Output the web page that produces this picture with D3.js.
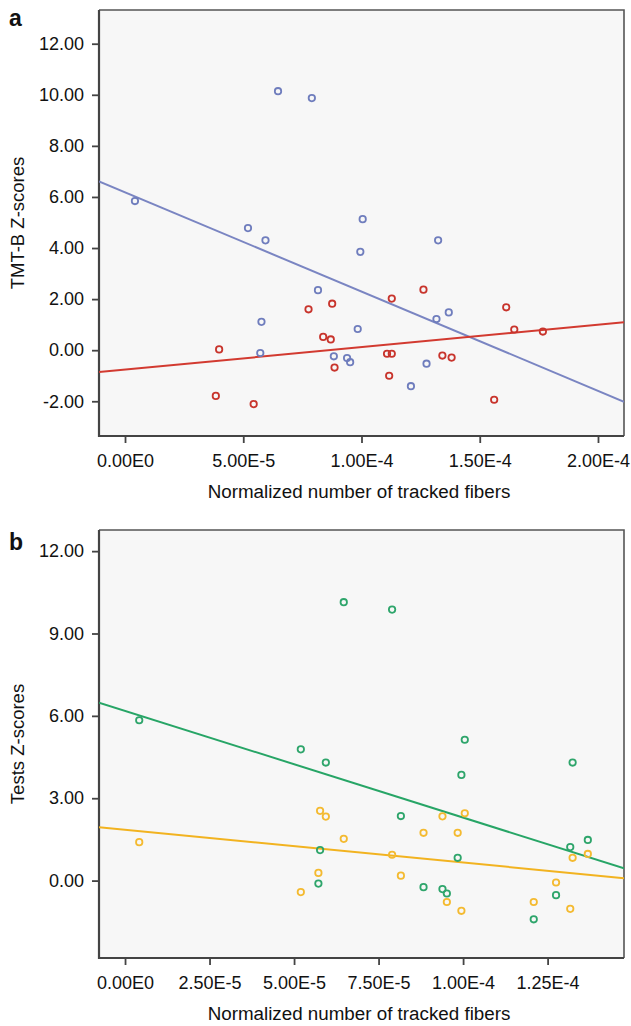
<!DOCTYPE html>
<html>
<head>
<meta charset="utf-8">
<script src="https://cdn.jsdelivr.net/npm/d3@7"></script>
<style>
  body { margin: 0; background: #fff; }
  svg { display: block; font-family: "Liberation Sans", Arial, sans-serif; }
</style>
</head>
<body>
<div id="chart"></div>
<script>
// subjects: normalized number of tracked fibers (panel a blue, panel b)
var fibers = [0.42e-5, 5.20e-5, 5.94e-5, 6.47e-5, 7.90e-5, 8.16e-5, 5.77e-5, 5.72e-5, 10.05e-5, 9.95e-5,
              13.24e-5, 9.84e-5, 13.17e-5, 13.69e-5, 8.83e-5, 9.39e-5, 9.52e-5, 12.75e-5, 12.09e-5];
// TMT-B z-scores (blue in a, green in b)
var tmtbScores = [5.84, 4.78, 4.30, 10.14, 9.87, 2.35, 1.11, -0.11, 5.13, 3.85,
                  4.30, 0.83, 1.22, 1.48, -0.24, -0.31, -0.47, -0.53, -1.41];
// second test z-scores (yellow in b)
var otherScores = [1.40, -0.42, 2.33, 1.52, 0.94, 0.18, 2.54, 0.28, 2.45, -1.10,
                   0.83, 1.74, -1.03, 0.97, 1.74, 2.34, -0.78, -0.07, -0.78];
// red group in panel a
var redFibers = [7.76e-5, 3.98e-5, 3.84e-5, 5.44e-5, 8.38e-5, 8.70e-5, 8.76e-5, 8.86e-5, 11.08e-5, 11.28e-5,
                 11.17e-5, 11.28e-5, 12.62e-5, 13.42e-5, 13.81e-5, 15.61e-5, 16.12e-5, 16.46e-5, 17.67e-5];
var redScores = [1.60, 0.03, -1.79, -2.11, 0.52, 0.42, 1.82, -0.68, -0.14, -0.14,
                 -1.00, 2.02, 2.37, -0.21, -0.29, -1.94, 1.68, 0.81, 0.73];

var ticksAX = [0, 5e-5, 1e-4, 1.5e-4, 2e-4];
var ticksAY = [-2, 0, 2, 4, 6, 8, 10, 12];
var ticksBX = [0, 2.5e-5, 5e-5, 7.5e-5, 1e-4, 1.25e-4];
var ticksBY = [0, 3, 6, 9, 12];

var W = 631, H = 1026;
var svg = d3.select("#chart").append("svg")
    .attr("width", W).attr("height", H);

// plain hyphen for minus, like the original software output
var loc = d3.formatLocale({decimal: ".", thousands: ",", grouping: [3], currency: ["", ""], minus: "-"});
// "0.00E0", "5.00E-5"
var sci = function(d) {
    return loc.format(".2e")(d).replace("e", "E").replace("+", "");
};
var fix = loc.format(".2f");

function fit(xs, ys) {
    var mx = d3.mean(xs), my = d3.mean(ys);
    var sxy = 0, sxx = 0;
    for (var i = 0; i < xs.length; i++) {
        sxy += (xs[i] - mx) * (ys[i] - my);
        sxx += (xs[i] - mx) * (xs[i] - mx);
    }
    var b = sxy / sxx;
    return function(x) { return my + b * (x - mx); };
}

function panel(opt) {
    var x = d3.scaleLinear().domain(opt.xDomain).range([opt.left, opt.right]);
    var y = d3.scaleLinear().domain(opt.yDomain).range([opt.bottom, opt.top]);
    var g = svg.append("g");

    g.append("rect")
        .attr("x", opt.left).attr("y", opt.top)
        .attr("width", opt.right - opt.left).attr("height", opt.bottom - opt.top)
        .attr("fill", "#f7f7f7");

    var clip = "clip-" + opt.name;
    g.append("clipPath").attr("id", clip).append("rect")
        .attr("x", opt.left).attr("y", opt.top)
        .attr("width", opt.right - opt.left).attr("height", opt.bottom - opt.top);

    // frame top / right
    g.append("path")
        .attr("d", "M" + opt.left + "," + opt.top + "H" + opt.right + "V" + opt.bottom)
        .attr("fill", "none").attr("stroke", "#555").attr("stroke-width", 1.6);

    var xAxis = g.append("g")
        .attr("transform", "translate(0," + opt.bottom + ")")
        .call(d3.axisBottom(x).tickValues(opt.xTicks).tickFormat(sci).tickSizeInner(7).tickSizeOuter(0).tickPadding(11));
    var yAxis = g.append("g")
        .attr("transform", "translate(" + opt.left + ",0)")
        .call(d3.axisLeft(y).tickValues(opt.yTicks).tickFormat(fix).tickSizeInner(7).tickSizeOuter(0).tickPadding(8));

    [xAxis, yAxis].forEach(function(a) {
        a.select(".domain").attr("stroke", "#444").attr("stroke-width", 2.2);
        a.selectAll(".tick line").attr("stroke", "#444").attr("stroke-width", 1.8);
        a.selectAll(".tick text").attr("fill", "#111").style("font-size", "18px");
    });
    xAxis.select(".domain").attr("d", "M" + (opt.left - 1) + ",0H" + opt.right);
    yAxis.select(".domain").attr("d", "M0," + opt.top + "V" + (opt.bottom + 1));

    var plot = g.append("g").attr("clip-path", "url(#" + clip + ")");

    opt.series.forEach(function(s) {
        var f = fit(s.xs, s.ys);
        var x0 = opt.xDomain[0], x1 = opt.xDomain[1];
        plot.append("line")
            .attr("x1", x(x0)).attr("y1", y(f(x0)))
            .attr("x2", x(x1)).attr("y2", y(f(x1)))
            .attr("stroke", s.line).attr("stroke-width", 2);
    });

    opt.series.forEach(function(s) {
        plot.selectAll(null)
            .data(d3.range(s.xs.length))
            .enter().append("circle")
            .attr("cx", function(i) { return x(s.xs[i]); })
            .attr("cy", function(i) { return y(s.ys[i]); })
            .attr("r", 3.2)
            .attr("fill", "none")
            .attr("stroke", s.color)
            .attr("stroke-width", 1.8);
    });

    g.append("text")
        .attr("x", 359).attr("y", opt.bottom + 62)
        .attr("text-anchor", "middle").style("font-size", "18.8px").attr("fill", "#111")
        .text("Normalized number of tracked fibers");

    g.append("text")
        .attr("transform", "translate(24," + (opt.top + opt.bottom) / 2 + ") rotate(-90)")
        .attr("text-anchor", "middle").style("font-size", "18.5px").attr("fill", "#111")
        .text(opt.yLabel);

    g.append("text")
        .attr("x", 9).attr("y", opt.letterY)
        .style("font-size", "23px").style("font-weight", "bold").attr("fill", "#111")
        .text(opt.name);
}

panel({
    name: "a", letterY: 26,
    left: 99, right: 624, top: 10, bottom: 436,
    xDomain: [-1.1e-5, 2.11e-4], yDomain: [-3.36, 13.32],
    xTicks: ticksAX, yTicks: ticksAY,
    yLabel: "TMT-B Z-scores",
    series: [
        {xs: fibers, ys: tmtbScores, color: "#6f7dbd", line: "#7a85c2"},
        {xs: redFibers, ys: redScores, color: "#c8342c", line: "#d23a30"}
    ]
});

panel({
    name: "b", letterY: 550,
    left: 99, right: 624, top: 530, bottom: 958,
    xDomain: [-0.77e-5, 1.476e-4], yDomain: [-2.82, 12.77],
    xTicks: ticksBX, yTicks: ticksBY,
    yLabel: "Tests Z-scores",
    series: [
        {xs: fibers, ys: otherScores, color: "#f4ba30", line: "#f2b320"},
        {xs: fibers, ys: tmtbScores, color: "#2ea56b", line: "#27a566"}
    ]
});
</script>
</body>
</html>
